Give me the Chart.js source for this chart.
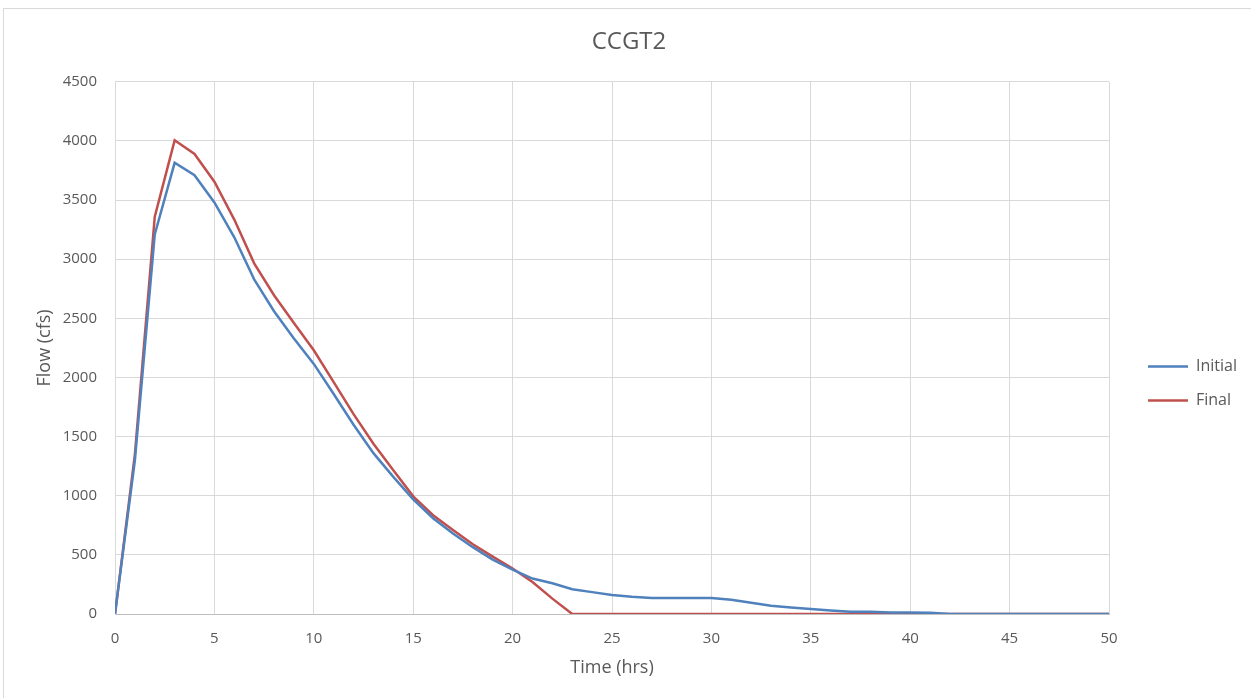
<!doctype html>
<html lang="en">
  <head>
    <title>CCGT2</title>
    <meta charset="utf-8" />
    <style>
      html, body {
        margin: 0;
        padding: 0;
        background: #ffffff;
        overflow: hidden;
      }
      .chart-container {
        position: absolute;
        left: 3px;
        top: 8px;
        width: 1250px;
        height: 700px;
        border: 1px solid #d9d9d9;
      }
    </style>
  </head>

  <body>
    <div class="chart-container">
      <canvas id="ccgt2" width="1250" height="700"></canvas>
    </div>

    <script src="https://cdn.jsdelivr.net/npm/chart.js@4.4.1/dist/chart.umd.min.js"></script>
    <script>
      const hours = [
        0, 1, 2, 3, 4, 5, 6, 7, 8, 9, 10, 11, 12, 13, 14, 15, 16, 17, 18, 19, 20,
        21, 22, 23, 24, 25, 26, 27, 28, 29, 30, 31, 32, 33, 34, 35, 36, 37, 38, 39, 40,
        41, 42, 43, 44, 45, 46, 47, 48, 49, 50,
      ];
      const initialFlow = [
        0, 1300, 3210, 3815, 3710, 3480, 3185, 2830, 2560, 2330, 2115,
        1860, 1600, 1360, 1160, 970, 810, 680, 565, 460, 375,
        300, 260, 210, 185, 160, 145, 135, 135, 135, 135,
        120, 95, 70, 55, 42, 30, 20, 20, 12, 12,
        10, 0, 0, 0, 0, 0, 0, 0, 0, 0,
      ];
      const finalFlow = [
        0, 1350, 3360, 4005, 3890, 3655, 3335, 2965, 2695, 2460, 2230,
        1960, 1690, 1440, 1215, 995, 835, 710, 590, 485, 385,
        270, 130, 0, 0, 0, 0, 0, 0, 0, 0,
        0, 0, 0, 0, 0, 0, 0, 0, 0, 0,
        0, 0, 0, 0, 0, 0, 0, 0, 0, 0,
      ];
      const seriesNames = ["Initial", "Final"];

      const textColor = "#595959";
      const gridColor = "#d9d9d9";
      const fontFamily = "'Open Sans', sans-serif";

      function toPoints(values) {
        return hours.map((h, i) => ({ x: h, y: values[i] }));
      }

      const ctx = document.getElementById("ccgt2");
      new Chart(ctx, {
        type: "line",
        data: {
          datasets: [
            {
              label: seriesNames[0],
              data: toPoints(initialFlow),
              borderColor: "#4f81bd",
              backgroundColor: "#4f81bd",
              borderWidth: 2.5,
              pointRadius: 0,
              tension: 0,
            },
            {
              label: seriesNames[1],
              data: toPoints(finalFlow),
              borderColor: "#c0504d",
              backgroundColor: "#c0504d",
              borderWidth: 2.5,
              pointRadius: 0,
              tension: 0,
            },
          ],
        },
        options: {
          responsive: false,
          animation: false,
          layout: {
            padding: { left: 7, right: 7, bottom: 27 },
          },
          plugins: {
            title: {
              display: true,
              text: "CCGT2",
              color: textColor,
              font: { family: fontFamily, size: 24, weight: "normal" },
              padding: { top: 19, bottom: 25 },
            },
            legend: {
              position: "right",
              // empty legend title just pushes the items down a bit
              title: {
                display: true,
                text: " ",
                font: { size: 1 },
                padding: 37.4,
              },
              labels: {
                usePointStyle: true,
                pointStyle: "line",
                pointStyleWidth: 40,
                padding: 18,
                color: textColor,
                font: { family: fontFamily, size: 16 },
              },
            },
            tooltip: { enabled: false },
          },
          scales: {
            x: {
              type: "linear",
              min: 0,
              max: 50,
              ticks: {
                stepSize: 5,
                padding: 16,
                color: textColor,
                font: { family: fontFamily, size: 15 },
              },
              grid: { color: gridColor, drawTicks: false },
              border: { color: "#bfbfbf" },
              title: {
                display: true,
                text: "Time (hrs)",
                color: textColor,
                font: { family: fontFamily, size: 18 },
                padding: { top: 0, bottom: 3 },
              },
              afterFit: (scale) => {
                scale.height = 68;
              },
            },
            y: {
              min: 0,
              max: 4500,
              ticks: {
                stepSize: 500,
                padding: 18,
                color: textColor,
                font: { family: fontFamily, size: 15 },
                callback: (value) => String(value),
              },
              grid: { color: gridColor, drawTicks: false },
              border: { color: gridColor },
              title: {
                display: true,
                text: "Flow (cfs)",
                color: textColor,
                font: { family: fontFamily, size: 18 },
                padding: { top: 23, bottom: 0 },
              },
              afterFit: (scale) => {
                scale.width = 104;
              },
            },
            gap: {
              position: "right",
              display: true,
              ticks: { display: false },
              grid: { display: false },
              border: { display: false },
              afterFit: (scale) => {
                scale.width = 21;
              },
            },
          },
        },
      });
    </script>
  </body>
</html>
